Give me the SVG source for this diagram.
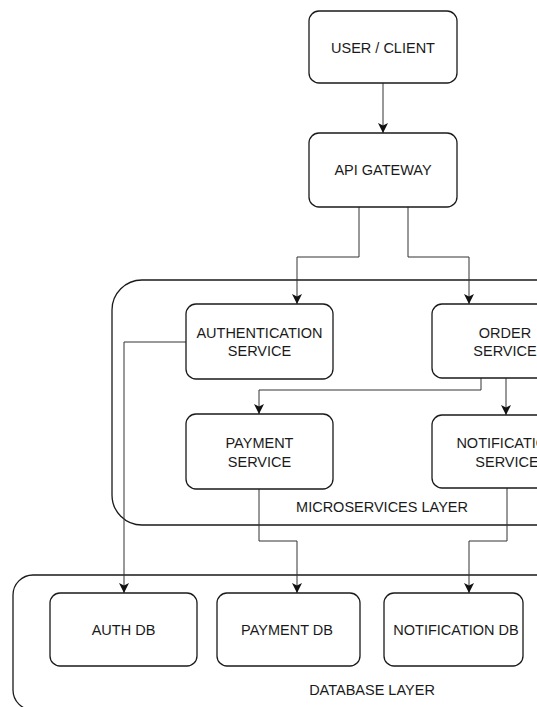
<svg xmlns="http://www.w3.org/2000/svg" width="537" height="707" viewBox="0 0 537 707">
<style>
.box{fill:#fff;stroke:#1a1a1a;stroke-width:1.3}
.layer{fill:none;stroke:#1a1a1a;stroke-width:1.3}
.t{font-family:"Liberation Sans",Arial,sans-serif;font-size:14.5px;fill:#1a1a1a;text-anchor:middle}
.c{fill:none;stroke:#333;stroke-width:1;marker-end:url(#ah)}
</style>
<defs>
<marker id="ah" markerUnits="userSpaceOnUse" markerWidth="10" markerHeight="10" refX="10" refY="5" orient="auto" viewBox="0 0 10 10">
<path d="M0,0 L10,5 L0,10 L2.5,5 z" fill="#111"/>
</marker>
</defs>
<rect width="537" height="707" fill="#fff"/>
<g id="microservices-layer">
<rect class="layer" x="112" y="280" width="500" height="245" rx="30"/>
<text class="t" x="382" y="512">MICROSERVICES LAYER</text>
</g>
<g id="database-layer">
<rect class="layer" x="13" y="575" width="600" height="135" rx="20"/>
<text class="t" x="372" y="695">DATABASE LAYER</text>
</g>
<g id="connectors">
<path class="c" d="M383,83 V133"/>
<path class="c" d="M359,207 V257 H297 V304"/>
<path class="c" d="M408,207 V257 H469 V304"/>
<path class="c" d="M481,378 V390 H259 V414"/>
<path class="c" d="M506,378 V415"/>
<path class="c" d="M186,342 H124 V593"/>
<path class="c" d="M259,489 V541 H297 V593"/>
<path class="c" d="M507,488 V541 H469 V593"/>
</g>
<g id="user-client">
<rect class="box" x="309" y="11" width="148" height="72" rx="10"/>
<text class="t" x="383" y="53">USER / CLIENT</text>
</g>
<g id="api-gateway">
<rect class="box" x="309" y="133" width="148" height="74" rx="10"/>
<text class="t" x="383" y="175">API GATEWAY</text>
</g>
<g id="authentication-service">
<rect class="box" x="186" y="304" width="147" height="75" rx="10"/>
<text class="t" x="259.5" y="338">AUTHENTICATION</text>
<text class="t" x="259.5" y="356">SERVICE</text>
</g>
<g id="order-service">
<rect class="box" x="432" y="304" width="146" height="74" rx="10"/>
<text class="t" x="505" y="338">ORDER</text>
<text class="t" x="505" y="356">SERVICE</text>
</g>
<g id="payment-service">
<rect class="box" x="186" y="414" width="147" height="75" rx="10"/>
<text class="t" x="259.5" y="448">PAYMENT</text>
<text class="t" x="259.5" y="467">SERVICE</text>
</g>
<g id="notification-service">
<rect class="box" x="432" y="415" width="146" height="73" rx="10"/>
<text class="t" x="507" y="448">NOTIFICATION</text>
<text class="t" x="507" y="467">SERVICE</text>
</g>
<g id="auth-db">
<rect class="box" x="50" y="593" width="147" height="73" rx="10"/>
<text class="t" x="123.5" y="635">AUTH DB</text>
</g>
<g id="payment-db">
<rect class="box" x="217" y="593" width="143" height="73" rx="10"/>
<text class="t" x="287" y="635">PAYMENT DB</text>
</g>
<g id="notification-db">
<rect class="box" x="384" y="593" width="139" height="73" rx="10"/>
<text class="t" x="456" y="635">NOTIFICATION DB</text>
</g>
</svg>
